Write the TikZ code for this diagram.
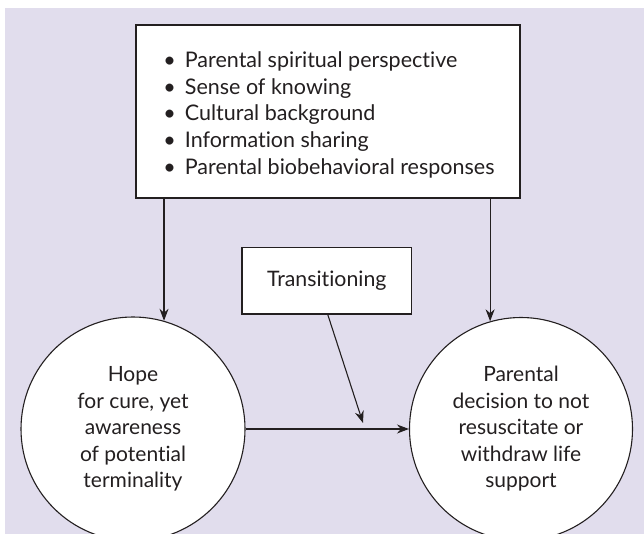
\documentclass[tikz,border=0pt]{standalone}
\usepackage{fontspec}
\setmainfont{Lato}[Ligatures=NoCommon]
\usetikzlibrary{arrows.meta,calc}
\definecolor{bg}{RGB}{225,221,237}
\definecolor{ink}{RGB}{35,31,32}
\begin{document}
\begin{tikzpicture}[x=1pt,y=-1pt,
  box/.style={draw=ink,fill=white,line width=1.1pt,rectangle,inner sep=0pt},
  circ/.style={draw=ink,fill=white,line width=1.1pt,circle,inner sep=0pt,align=center,
    font=\fontsize{21}{26.5}\selectfont,text=ink},
  arr/.style={draw=ink,line width=1.1pt,-{Stealth[length=12pt,width=9pt]}}]
\useasboundingbox (0,0) rectangle (644,534);
\begin{scope}
\clip (0,0) rectangle (644,534);
\fill[bg] (5,8.5) rectangle (644,534);
\node[box,minimum width=384pt,minimum height=173pt] (top) at (328,111.5) {};
\node[inner sep=0pt,text=ink,font=\fontsize{21.5}{26.6}\selectfont]
  (toplist) at ([xshift=1pt,yshift=-4pt]top.center)
  {\begin{tabular}{@{}l@{\hspace{9pt}}l@{}}
   \textbullet & Parental spiritual perspective\\
   \textbullet & Sense of knowing\\
   \textbullet & Cultural background\\
   \textbullet & Information sharing\\
   \textbullet & Parental biobehavioral responses
   \end{tabular}};
\node[box,minimum width=169.5pt,minimum height=66.5pt,text=ink,
  font=\fontsize{21.3}{26.5}\selectfont] (trans) at (326.75,280.75) {Transitioning};
\node[circ,minimum size=224pt] (hope) at (133,429)
  {Hope\\for cure, yet\\awareness\\of potential\\terminality};
\node[circ,minimum size=223pt] (dec) at (521,429)
  {Parental\\decision to not\\resuscitate or\\withdraw life\\support};
\coordinate (tend) at (363,423);
\draw[arr] (hope.74.5 |- top.south) -- (hope.74.5);
\draw[arr] (dec.106.4 |- top.south) -- (dec.106.4);
\draw[arr] (hope.east) -- (dec.west);
\draw[arr] ([xshift=1pt]trans.south) -- (tend);
\end{scope}
\end{tikzpicture}
\end{document}
